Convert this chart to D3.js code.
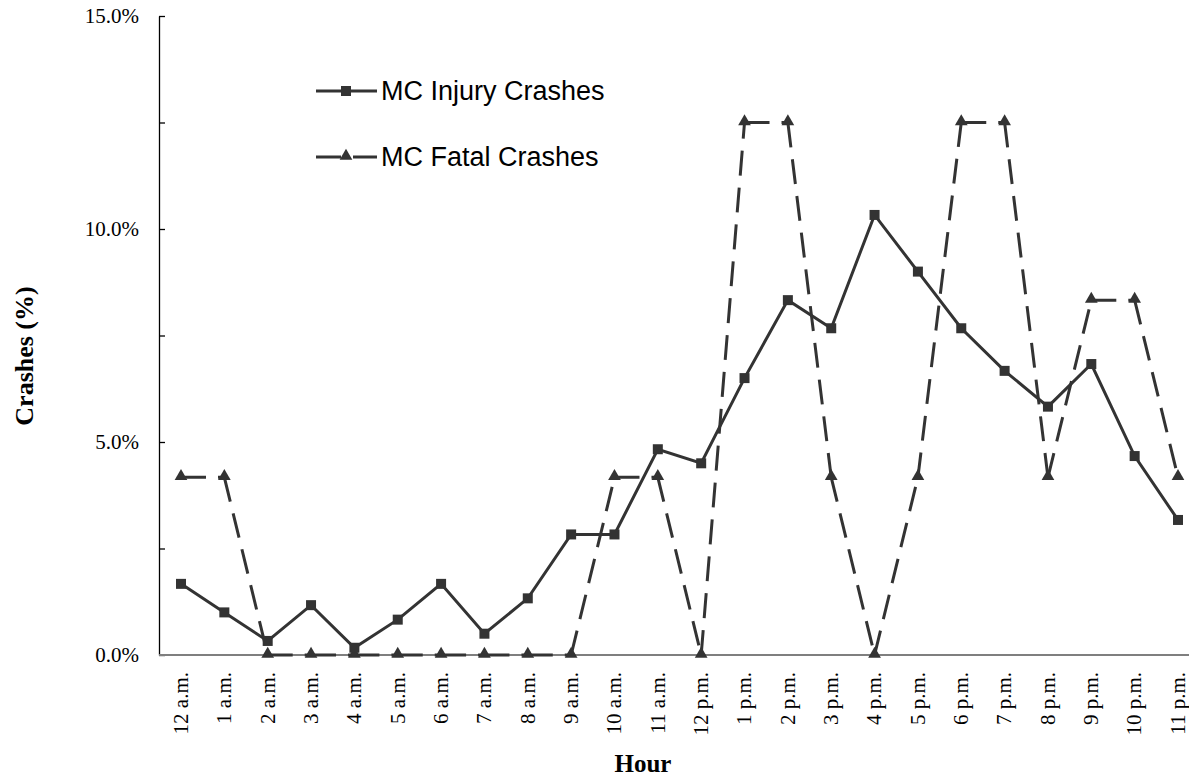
<!DOCTYPE html>
<html>
<head>
<meta charset="utf-8">
<script src="https://cdn.jsdelivr.net/npm/d3@7"></script>
<style>
  body { margin: 0; background: #fff; }
  svg { display: block; }
</style>
</head>
<body>
<svg id="chart" width="1189" height="776"></svg>
<script>
var width = 1189, height = 776;

var hours = ["12 a.m.", "1 a.m.", "2 a.m.", "3 a.m.", "4 a.m.", "5 a.m.", "6 a.m.", "7 a.m.", "8 a.m.", "9 a.m.",
  "10 a.m.", "11 a.m.", "12 p.m.", "1 p.m.", "2 p.m.", "3 p.m.", "4 p.m.", "5 p.m.", "6 p.m.", "7 p.m.",
  "8 p.m.", "9 p.m.", "10 p.m.", "11 p.m."];

// percent of crashes by hour
var injury = [1.67, 1.00, 0.33, 1.17, 0.17, 0.83, 1.67, 0.50, 1.33, 2.83,
  2.83, 4.83, 4.50, 6.50, 8.33, 7.67, 10.33, 9.00, 7.67, 6.67,
  5.83, 6.83, 4.67, 3.17];
var fatal = [4.17, 4.17, 0, 0, 0, 0, 0, 0, 0, 0,
  4.17, 4.17, 0, 12.5, 12.5, 4.17, 0, 4.17, 12.5, 12.5,
  4.17, 8.33, 8.33, 4.17];

var yTicks = [0, 2.5, 5, 7.5, 10, 12.5, 15];
var legendNames = ["MC Injury Crashes", "MC Fatal Crashes"];

var lineColor = "#333333";
var serif = "'Liberation Serif', 'Times New Roman', serif";
var sans = "'Liberation Sans', Arial, sans-serif";
var axisLeftX = 159, axisRightX = 1189;

var svg = d3.select("#chart");

var x = d3.scalePoint().domain(hours).range([181, 1178]);
var y = d3.scaleLinear().domain([0, 15]).range([655, 16]);

// y axis, ticks point inward, labels only every 5%
var yAxis = d3.axisLeft(y)
  .tickValues(yTicks)
  .tickSizeInner(-6)
  .tickSizeOuter(0)
  .tickPadding(20)
  .tickFormat(function(d) { return d % 5 === 0 ? d.toFixed(1) + "%" : ""; });

var gy = svg.append("g")
  .attr("transform", "translate(" + axisLeftX + ",0)")
  .call(yAxis);
gy.select(".domain").attr("stroke", "#000").attr("stroke-width", 1.3);
gy.selectAll(".tick line").attr("stroke", "#000").attr("stroke-width", 1.3);
gy.selectAll(".tick text")
  .attr("font-family", serif)
  .attr("font-size", 21)
  .attr("fill", "#000");

// x axis
var xAxis = d3.axisBottom(x).tickSize(0).tickPadding(0);
var gx = svg.append("g")
  .attr("transform", "translate(0," + y(0) + ")")
  .call(xAxis);
gx.select(".domain").remove();
gx.append("line")
  .attr("x1", axisLeftX).attr("x2", axisRightX)
  .attr("y1", 0).attr("y2", 0)
  .attr("stroke", "#7f7f7f").attr("stroke-width", 2);
gx.selectAll(".tick text")
  .attr("font-family", serif)
  .attr("font-size", 21)
  .attr("fill", "#000")
  .attr("transform", "rotate(-90)")
  .attr("text-anchor", "end")
  .attr("x", -17)
  .attr("y", 0)
  .attr("dy", "0.3em");

// axis titles
svg.append("text")
  .attr("transform", "translate(24,356) rotate(-90)")
  .attr("text-anchor", "middle")
  .attr("dy", "0.35em")
  .attr("font-family", serif)
  .attr("font-weight", "bold")
  .attr("font-size", 26)
  .text("Crashes (%)");

svg.append("text")
  .attr("x", 643).attr("y", 772)
  .attr("text-anchor", "middle")
  .attr("font-family", serif)
  .attr("font-weight", "bold")
  .attr("font-size", 25)
  .text("Hour");

// fatal series: dashed, pattern restarts on each segment
var fatalPts = hours.map(function(h, i) { return [x(h), y(fatal[i])]; });
var segs = d3.pairs(fatalPts);
svg.append("g").selectAll("line")
  .data(segs)
  .join("line")
  .attr("x1", function(d) { return d[0][0]; })
  .attr("y1", function(d) { return d[0][1]; })
  .attr("x2", function(d) { return d[1][0]; })
  .attr("y2", function(d) { return d[1][1]; })
  .attr("stroke", lineColor)
  .attr("stroke-width", 3)
  .attr("stroke-dasharray", "25,12");

// injury series: solid
var line = d3.line()
  .x(function(d, i) { return x(hours[i]); })
  .y(function(d) { return y(d); });
svg.append("path")
  .datum(injury)
  .attr("d", line)
  .attr("fill", "none")
  .attr("stroke", lineColor)
  .attr("stroke-width", 3)
  .attr("stroke-linejoin", "miter");

var tri = d3.symbol().type(d3.symbolTriangle).size(70);

svg.append("g").selectAll("path")
  .data(fatal)
  .join("path")
  .attr("d", tri)
  .attr("transform", function(d, i) { return "translate(" + x(hours[i]) + "," + (y(d) - 1) + ")"; })
  .attr("fill", lineColor);

svg.append("g").selectAll("rect")
  .data(injury)
  .join("rect")
  .attr("x", function(d, i) { return x(hours[i]) - 5; })
  .attr("y", function(d) { return y(d) - 5; })
  .attr("width", 10).attr("height", 10)
  .attr("fill", lineColor);

// legend
var legend = svg.append("g");
var legY = [91, 157];
legend.selectAll("line.leg")
  .data(legendNames)
  .join("line")
  .attr("class", "leg")
  .attr("x1", 316).attr("x2", 377)
  .attr("y1", function(d, i) { return legY[i]; })
  .attr("y2", function(d, i) { return legY[i]; })
  .attr("stroke", lineColor)
  .attr("stroke-width", 3)
  .attr("stroke-dasharray", function(d, i) { return i === 1 ? "25,12" : null; });
legend.append("rect")
  .attr("x", 341).attr("y", legY[0] - 5)
  .attr("width", 10).attr("height", 10)
  .attr("fill", lineColor);
legend.append("path")
  .attr("d", tri)
  .attr("transform", "translate(346," + (legY[1] - 1) + ")")
  .attr("fill", lineColor);
legend.selectAll("text")
  .data(legendNames)
  .join("text")
  .attr("x", 381)
  .attr("y", function(d, i) { return legY[i]; })
  .attr("dy", "0.35em")
  .attr("font-family", sans)
  .attr("font-size", 27)
  .attr("fill", "#000")
  .text(function(d) { return d; });
</script>
</body>
</html>
